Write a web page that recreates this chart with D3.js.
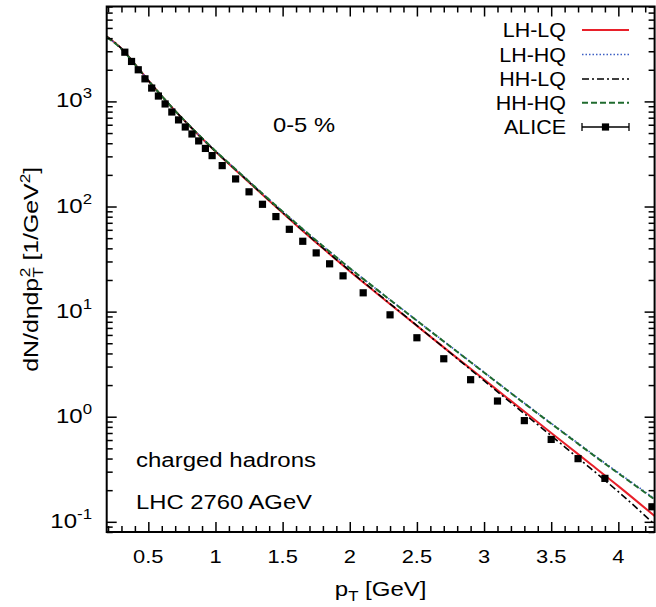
<!DOCTYPE html>
<html><head><meta charset="utf-8">
<script src="https://cdn.jsdelivr.net/npm/d3@7"></script>
<style>
body{margin:0;background:#fff;}
text{font-family:"Liberation Sans",Arial,Helvetica,sans-serif;fill:#000;}
</style></head><body>
<svg id="chart" width="656" height="607"></svg>
<script>
// ---- data ----
const alicePt = [0.325,0.375,0.425,0.475,0.525,0.575,0.625,0.675,0.725,0.775,0.825,0.875,0.925,0.975,
  1.05,1.15,1.25,1.35,1.45,1.55,1.65,1.75,1.85,1.95,2.1,2.3,2.5,2.7,2.9,3.1,3.3,3.5,3.7,3.9,4.25];
const aliceVal = [2940,2400,2000,1640,1340,1125,946,793,667,571,490,421,357,305,
  245,183,138,105,80.2,60.7,46.7,36.2,28.5,21.9,15.1,9.32,5.64,3.56,2.25,1.41,0.918,0.608,0.399,0.259,0.139];
const aliceErr = [90,70,60,50,40,34,28,24,20,17,15,13,11,9,
  7,5.5,4,3.2,2.4,1.8,1.4,1.1,0.9,0.7,0.5,0.3,0.18,0.12,0.08,0.05,0.035,0.025,0.017,0.012,0.008];

const curvePt = [0.19,0.3,0.4,0.5,0.6,0.7,0.8,0.9,1.0,1.2,1.4,1.6,1.8,2.0,2.2,2.4,2.6,2.8,3.0,3.2,3.4,3.6,3.8,4.0,4.27];
const lhlq = [4147,3188,2265,1581,1124,812,596.6,443.8,333.8,194.3,113.4,66.86,40.03,24.24,14.97,9.286,5.783,3.612,2.260,1.414,0.8867,0.5561,0.3487,0.2187,0.1136];
const lhhq = [4110,3170,2258,1583,1126,814,600.8,448.0,337.8,198.0,116.6,69.4,42.1,25.95,16.31,10.33,6.55,4.17,2.65,1.687,1.0799,0.6969,0.4496,0.2933,0.1660];
const hhlq = [4147,3188,2265,1581,1124,812,597.5,445.0,335.0,195.5,114.2,67.4,40.29,24.51,15.13,9.368,5.783,3.572,2.201,1.359,0.8394,0.5173,0.3174,0.1934,0.0943];
const hhhq = [4075,3153,2250,1581,1124,812,600.5,447.7,337.5,197.7,116.4,69.25,42.01,25.89,16.27,10.29,6.523,4.147,2.635,1.677,1.0704,0.6892,0.4438,0.2889,0.1631];

const xTickVals = [0.5,1,1.5,2,2.5,3,3.5,4];
const xTickLabels = ["0.5","1","1.5","2","2.5","3","3.5","4"];
const yTickExps = [-1,0,1,2,3];

const seriesNames = ["LH-LQ","LH-HQ","HH-LQ","HH-HQ"];
const seriesVals = [lhlq,lhhq,hhlq,hhhq];
const seriesColors = ["#e8202a","#3d5fc4","#000000","#1f6b2e"];
const seriesDash = [null,"1.5,2","7,3,2,3","6,3"];
const seriesWidth = [2,1.6,1.6,2];

// ---- layout ----
const L = 106.7, R = 654.6, T = 6.5, B = 532;
const svg = d3.select("#chart");
const x = d3.scaleLinear().domain([0.19,4.27]).range([L,R]);
const y = d3.scaleLog().domain([0.08,8000]).range([B,T]);

function stretch(sel,k){
  sel.each(function(){
    const w = this.getComputedTextLength();
    d3.select(this).attr("textLength", w*k).attr("lengthAdjust","spacingAndGlyphs");
  });
}

svg.append("defs").append("clipPath").attr("id","clip")
  .append("rect").attr("x",L).attr("y",T).attr("width",R-L).attr("height",B-T);

// curves
const line = d3.line().x(d=>x(d[0])).y(d=>y(d[1])).curve(d3.curveMonotoneX);
const gCurves = svg.append("g").attr("clip-path","url(#clip)");
seriesVals.forEach((vals,i)=>{
  gCurves.append("path").datum(curvePt.map((p,j)=>[p,vals[j]]))
    .attr("d",line).attr("fill","none")
    .attr("stroke",seriesColors[i]).attr("stroke-width",seriesWidth[i])
    .attr("stroke-dasharray",seriesDash[i]);
});

// ALICE points
const gPts = svg.append("g").attr("clip-path","url(#clip)");
alicePt.forEach((p,i)=>{
  const cx = x(p), v = aliceVal[i], e = aliceErr[i];
  gPts.append("line").attr("x1",cx).attr("x2",cx).attr("y1",y(v-e)).attr("y2",y(v+e))
    .attr("stroke","#000").attr("stroke-width",1.2);
  gPts.append("rect").attr("x",cx-3.6).attr("y",y(v)-3.6).attr("width",7.2).attr("height",7.2).attr("fill","#000");
});

// axes ticks
const xMinor = d3.range(2,43).map(d=>d/10).filter(d=>Math.abs(d*2-Math.round(d*2))>1e-6);
const yMinor = [];
for(let e=-2;e<=3;e++) for(let m=2;m<=9;m++){const v=m*Math.pow(10,e); if(v>=0.08&&v<=8000) yMinor.push(v);}
const yMajor = yTickExps.map(e=>Math.pow(10,e));

function tickAxis(axisFn, scale, vals, size, transform){
  svg.append("g").attr("transform",transform)
    .call(axisFn(scale).tickValues(vals).tickSize(size).tickFormat(""))
    .call(g=>g.select(".domain").remove())
    .call(g=>g.selectAll("line").attr("stroke","#000").attr("stroke-width",1.5));
}
tickAxis(d3.axisBottom,x,xTickVals,-10,`translate(0,${B})`);
tickAxis(d3.axisBottom,x,xMinor,-6,`translate(0,${B})`);
tickAxis(d3.axisTop,x,xTickVals,-10,`translate(0,${T})`);
tickAxis(d3.axisTop,x,xMinor,-6,`translate(0,${T})`);
tickAxis(d3.axisLeft,y,yMajor,-10,`translate(${L},0)`);
tickAxis(d3.axisLeft,y,yMinor,-6,`translate(${L},0)`);
tickAxis(d3.axisRight,y,yMajor,-10,`translate(${R},0)`);
tickAxis(d3.axisRight,y,yMinor,-6,`translate(${R},0)`);

// frame
svg.append("rect").attr("x",L).attr("y",T).attr("width",R-L).attr("height",B-T)
  .attr("fill","none").attr("stroke","#000").attr("stroke-width",2);

// x tick labels
const xl = svg.append("g").selectAll("text").data(xTickVals).join("text")
  .attr("x",d=>x(d)).attr("y",563).attr("text-anchor","middle").attr("font-size",19)
  .text((d,i)=>xTickLabels[i]);
stretch(xl,1.15);

// y tick labels
yTickExps.forEach(e=>{
  const t = svg.append("text").attr("x",92).attr("y",y(Math.pow(10,e))+6)
    .attr("text-anchor","end").attr("font-size",20);
  t.append("tspan").text("10");
  t.append("tspan").attr("font-size",14).attr("dy",-9).text(String(e));
  stretch(t,1.2);
});

// axis titles
const xt = svg.append("text").attr("x",(L+R)/2).attr("y",596).attr("text-anchor","middle").attr("font-size",20);
xt.append("tspan").text("p");
xt.append("tspan").attr("font-size",14).attr("dy",5).text("T");
xt.append("tspan").attr("dy",-5).text(" [GeV]");
stretch(xt,1.2);

const yt = svg.append("text").attr("transform",`translate(38,${(T+B)/2}) rotate(-90)`)
  .attr("text-anchor","middle").attr("font-size",20);
yt.append("tspan").text("dN/dηdp");
yt.append("tspan").attr("font-size",14).attr("dy",5).text("T");
yt.append("tspan").attr("font-size",14).attr("dx",-8).attr("dy",-13).text("2");
yt.append("tspan").attr("dy",8).text(" [1/GeV");
yt.append("tspan").attr("font-size",14).attr("dy",-8).text("2");
yt.append("tspan").attr("dy",8).text("]");
yt.attr("textLength",205).attr("lengthAdjust","spacingAndGlyphs");

// annotations
svg.append("text").attr("x",273).attr("y",131.5).attr("font-size",21).text("0-5 %")
  .attr("textLength",62).attr("lengthAdjust","spacingAndGlyphs");
svg.append("text").attr("x",136).attr("y",467).attr("font-size",20).text("charged hadrons")
  .attr("textLength",180).attr("lengthAdjust","spacingAndGlyphs");
svg.append("text").attr("x",136).attr("y",508.5).attr("font-size",20).text("LHC 2760 AGeV")
  .attr("textLength",176).attr("lengthAdjust","spacingAndGlyphs");

// legend
const legY = [30,54.5,79,102.7,127];
const legNames = seriesNames.concat(["ALICE"]);
legNames.forEach((n,i)=>{
  const t = svg.append("text").attr("x",566).attr("y",legY[i]+7).attr("text-anchor","end")
    .attr("font-size",19.5).text(n);
  stretch(t,1.1);
  if(i<4){
    svg.append("line").attr("x1",582).attr("x2",629).attr("y1",legY[i]).attr("y2",legY[i])
      .attr("stroke",seriesColors[i]).attr("stroke-width",seriesWidth[i])
      .attr("stroke-dasharray",seriesDash[i]);
  } else {
    const g = svg.append("g").attr("stroke","#000").attr("stroke-width",1.3);
    g.append("line").attr("x1",582).attr("x2",629).attr("y1",legY[i]).attr("y2",legY[i]);
    g.append("line").attr("x1",582).attr("x2",582).attr("y1",legY[i]-4).attr("y2",legY[i]+4);
    g.append("line").attr("x1",629).attr("x2",629).attr("y1",legY[i]-4).attr("y2",legY[i]+4);
    svg.append("rect").attr("x",605.5-3.6).attr("y",legY[i]-3.6).attr("width",7.2).attr("height",7.2).attr("fill","#000");
  }
});
</script>
</body></html>
